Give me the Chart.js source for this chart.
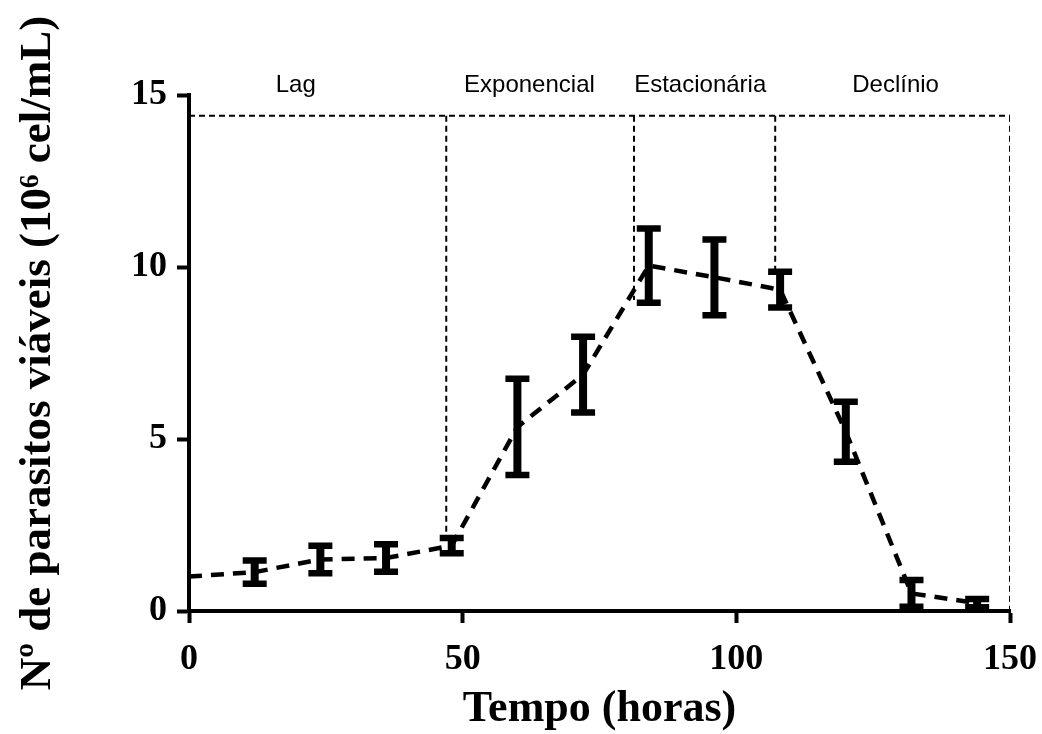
<!DOCTYPE html>
<html>
<head>
<meta charset="utf-8">
<script src="https://cdn.jsdelivr.net/npm/chart.js@4.4.1/dist/chart.umd.min.js"></script>
<style>
  html, body { margin: 0; padding: 0; background: #fff; }
  #wrap { width: 1042px; height: 734px; }
</style>
</head>
<body>
<div id="wrap"><canvas id="c" width="1042" height="734"></canvas></div>
<script>
// ---- data ----
const hours = [0, 12, 24, 36, 48, 60, 72, 84, 96, 108, 120, 132, 144];
const parasites = [1.0, 1.13, 1.5, 1.54, 1.9, 5.35, 6.87, 10.04, 9.7, 9.34, 5.21, 0.51, 0.23];
const errors = [0, 0.34, 0.4, 0.4, 0.22, 1.4, 1.1, 1.08, 1.1, 0.52, 0.87, 0.39, 0.12];
const phaseNames = ['Lag', 'Exponencial', 'Estacionária', 'Declínio'];
const phaseLabelX = [19.5, 62.2, 93.4, 129.1];
const phaseBounds = [47, 81.3, 107.1, 150];
const phaseLineEnds = [2.15, 9.04, 9.9, 0];
const phaseTop = 14.4;
const xTicks = [0, 50, 100, 150];
const yTicks = [0, 5, 10, 15];

// ---- datasets ----
const datasets = [];
datasets.push({
  label: 'phaseTop',
  data: [{x: 0, y: phaseTop}, {x: 150, y: phaseTop}],
  showLine: true, borderColor: '#000', borderWidth: 2, borderDash: [6, 4],
  pointRadius: 0, fill: false
});
phaseBounds.forEach((b, i) => {
  datasets.push({
    label: 'phase' + i,
    data: [{x: b, y: phaseTop}, {x: b, y: phaseLineEnds[i]}],
    showLine: true, borderColor: '#000', borderWidth: 2, borderDash: [6, 4],
    pointRadius: 0, fill: false
  });
});
datasets.push({
  label: 'main',
  data: hours.map((h, i) => ({x: h, y: parasites[i]})),
  showLine: true, borderColor: '#000', borderWidth: 4.5, borderDash: [13, 9],
  pointRadius: 0, fill: false, tension: 0
});

const errorBarPlugin = {
  id: 'errorBars',
  afterDatasetsDraw(chart) {
    const ctx = chart.ctx;
    const xs = chart.scales.x, ys = chart.scales.y;
    ctx.save();
    ctx.strokeStyle = '#000';
    ctx.lineCap = 'butt';
    hours.forEach((h, i) => {
      if (!errors[i]) return;
      const px = xs.getPixelForValue(h);
      const yt = ys.getPixelForValue(parasites[i] + errors[i]);
      const yb = ys.getPixelForValue(parasites[i] - errors[i]);
      ctx.lineWidth = 8;
      ctx.beginPath();
      ctx.moveTo(px, yt); ctx.lineTo(px, yb);
      ctx.stroke();
      ctx.lineWidth = 6.5;
      const hw = 12;
      ctx.beginPath();
      ctx.moveTo(px - hw, yt); ctx.lineTo(px + hw, yt);
      ctx.moveTo(px - hw, yb); ctx.lineTo(px + hw, yb);
      ctx.stroke();
    });
    // phase labels
    ctx.fillStyle = '#000';
    ctx.font = '24px "Liberation Sans", Arial, sans-serif';
    ctx.textAlign = 'center';
    ctx.textBaseline = 'alphabetic';
    phaseNames.forEach((n, i) => {
      ctx.fillText(n, xs.getPixelForValue(phaseLabelX[i]), chart.chartArea.top - 3);
    });
    ctx.restore();
  }
};

new Chart(document.getElementById('c'), {
  type: 'scatter',
  data: { datasets },
  plugins: [errorBarPlugin],
  options: {
    responsive: false,
    animation: false,
    devicePixelRatio: 1,
    layout: { padding: { left: 0, right: 32, top: 95, bottom: 0 } },
    plugins: { legend: { display: false }, tooltip: { enabled: false } },
    scales: {
      x: {
        type: 'linear', min: 0, max: 150,
        afterBuildTicks: s => { s.ticks = xTicks.map(v => ({value: v})); },
        afterFit: s => { s.height = 123; s.paddingLeft = 0; s.paddingRight = 0; },
        ticks: {
          color: '#000', padding: 15,
          font: { family: '"Liberation Serif", "Times New Roman", serif', size: 36, weight: 'bold' }
        },
        grid: { display: true, drawOnChartArea: false, drawTicks: true, tickLength: 12, tickWidth: 4, tickColor: '#000' },
        border: { display: true, width: 4, color: '#000' },
        title: {
          display: true, text: 'Tempo (horas)', color: '#000',
          font: { family: '"Liberation Serif", "Times New Roman", serif', size: 44, weight: 'bold' },
          padding: { top: 0, bottom: -2 }
        }
      },
      y: {
        type: 'linear', min: 0, max: 15,
        afterBuildTicks: s => { s.ticks = yTicks.map(v => ({value: v})); },
        afterFit: s => { s.width = 189; s.paddingTop = 0; s.paddingBottom = 0; },
        ticks: {
          color: '#000', padding: 10,
          font: { family: '"Liberation Serif", "Times New Roman", serif', size: 36, weight: 'bold' }
        },
        grid: { display: true, drawOnChartArea: false, drawTicks: true, tickLength: 12, tickWidth: 4, tickColor: '#000' },
        border: { display: true, width: 4, color: '#000' },
        title: {
          display: true, text: 'Nº de parasitos viáveis (10⁶ cel/mL)', color: '#000',
          font: { family: '"Liberation Serif", "Times New Roman", serif', size: 45, weight: 'bold' },
          padding: { top: 11, bottom: 0 }
        }
      }
    }
  }
});
</script>
</body>
</html>
